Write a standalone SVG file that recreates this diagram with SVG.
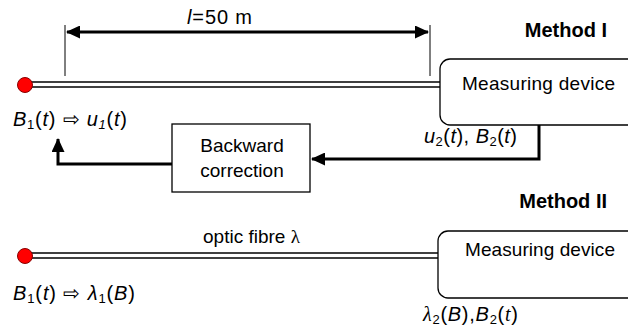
<svg xmlns="http://www.w3.org/2000/svg" width="628" height="334" viewBox="0 0 628 334">
<style>
text{font-family:"Liberation Sans",Arial,sans-serif;font-size:19px;fill:#000}
.f{font-size:20px}
.b{font-weight:bold;font-size:20px}
.i{font-style:italic}
.s{font-size:13px}
.sr{font-family:"Liberation Serif","Times New Roman",serif}
.box{fill:#fff;stroke:#000;stroke-width:1.3}
.fib{stroke:#000;stroke-width:1.4;fill:none}
.dot{fill:#f00;stroke:#800;stroke-width:1}
.tick{stroke:#000;stroke-width:1;fill:none}
.arr{stroke:#000;stroke-width:3;fill:none}
</style>
<defs>
<marker id="ah" markerUnits="userSpaceOnUse" markerWidth="15" markerHeight="13" refX="13" refY="6.5" orient="auto-start-reverse">
<path d="M0,0 L14,6.5 L0,13 Z" fill="#000"/>
</marker>
</defs>
<g id="connectors">
<line class="tick" x1="65" y1="25" x2="65" y2="76"/>
<line class="tick" x1="430" y1="25" x2="430" y2="76"/>
<line class="arr" x1="67" y1="32" x2="428" y2="32" marker-start="url(#ah)" marker-end="url(#ah)"/>
<line class="fib" x1="30" y1="82" x2="440" y2="82" stroke="#444"/>
<line class="fib" x1="30" y1="87" x2="440" y2="87"/>
<line class="fib" x1="30" y1="253" x2="438" y2="253" stroke="#444"/>
<line class="fib" x1="30" y1="258" x2="438" y2="258"/>
<polyline class="arr" points="539,125 539,159 312,159" marker-end="url(#ah)"/>
<polyline class="arr" points="172,164 58,164 58,139" marker-end="url(#ah)"/>
</g>
<g id="sensor1"><circle class="dot" cx="25" cy="85" r="7.5"/></g>
<g id="sensor2"><circle class="dot" cx="25" cy="256" r="7.5"/></g>
<g id="device1">
<rect class="box" x="440" y="59" width="220" height="66" rx="10"/>
<text x="462" y="90" textLength="153">Measuring device</text>
</g>
<g id="correction">
<rect class="box" x="172" y="124" width="138" height="68"/>
<text x="242" y="152" text-anchor="middle">Backward</text>
<text x="242" y="177" text-anchor="middle">correction</text>
</g>
<g id="device2">
<rect class="box" x="438" y="231" width="220" height="67" rx="10"/>
<text x="465" y="256" textLength="150">Measuring device</text>
</g>
<g id="labels">
<text class="f" x="187" y="24" textLength="65"><tspan class="i">l</tspan>=50 m</text>
<text class="b" x="607" y="37" text-anchor="end">Method I</text>
<text class="b" x="607" y="208" text-anchor="end">Method II</text>
<text class="f" x="13" y="126" textLength="114"><tspan class="i">B</tspan><tspan class="s" dy="3">1</tspan><tspan dy="-3">(</tspan><tspan class="i">t</tspan>) ⇨ <tspan class="i">u</tspan><tspan class="s i" dy="3">1</tspan><tspan dy="-3">(</tspan><tspan class="i">t</tspan>)</text>
<text class="f" x="424" y="143" textLength="93"><tspan class="i">u</tspan><tspan class="s" dy="3">2</tspan><tspan dy="-3">(</tspan><tspan class="i">t</tspan>), <tspan class="i">B</tspan><tspan class="s" dy="3">2</tspan><tspan dy="-3">(</tspan><tspan class="i">t</tspan>)</text>
<text x="203" y="243">optic fibre <tspan class="sr">λ</tspan></text>
<text class="f" x="13" y="300" textLength="122"><tspan class="i">B</tspan><tspan class="s" dy="3">1</tspan><tspan dy="-3">(</tspan><tspan class="i">t</tspan>) ⇨ <tspan class="i">λ</tspan><tspan class="s" dy="3">1</tspan><tspan dy="-3">(</tspan><tspan class="i">B</tspan>)</text>
<text class="f" x="423" y="321" textLength="95"><tspan class="i sr">λ</tspan><tspan class="s" dy="3">2</tspan><tspan dy="-3">(</tspan><tspan class="i">B</tspan>),<tspan class="i">B</tspan><tspan class="s" dy="3">2</tspan><tspan dy="-3">(</tspan><tspan class="i sr">t</tspan>)</text>
</g>
</svg>
